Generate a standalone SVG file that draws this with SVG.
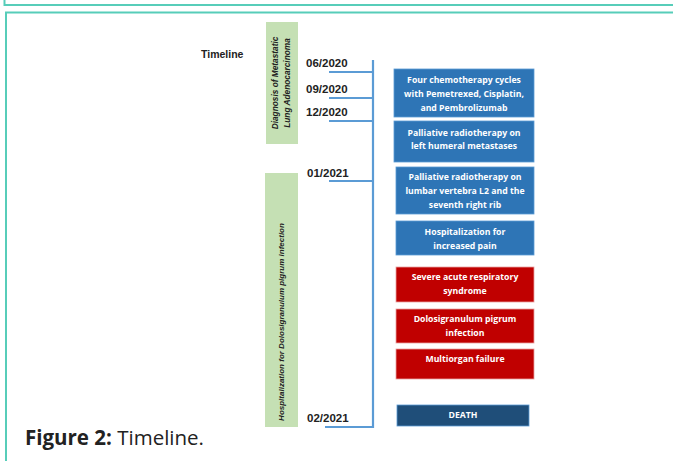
<svg xmlns="http://www.w3.org/2000/svg" width="673" height="461" viewBox="0 0 673 461">
<style>
.frame{fill:none;stroke:#57cdb9;stroke-width:2}
.green{fill:#c5e0b4}
.blue{fill:#2e75b6;stroke:#5b9bd5;stroke-width:0.8}
.red{fill:#c00000;stroke:#e8a0a0;stroke-width:0.8}
.navy{fill:#1f4e79;stroke:#5b9bd5;stroke-width:0.8}
.bt{font-family:"Open Sans","Liberation Sans",Arial,sans-serif;font-weight:bold;font-size:8.7px;fill:#ffffff;text-anchor:middle}
.date{font-family:"Liberation Sans",Arial,sans-serif;font-weight:bold;font-size:11.5px;fill:#222}
.vt{font-family:"Liberation Sans",Arial,sans-serif;font-weight:bold;font-style:italic;fill:#222;text-anchor:middle}
.ln{fill:none;stroke:#5b9bd5;stroke-width:2.2}
</style>
<rect width="673" height="461" fill="#ffffff"/>
<path class="frame" d="M4.5,0 V5 H673"/>
<path class="frame" d="M6,461 V12.5 H673"/>

<text x="201" y="58" font-family="Liberation Sans, Arial, sans-serif" font-weight="bold" font-size="10.5" fill="#222">Timeline</text>

<g id="phase-diagnosis">
<rect class="green" x="266" y="22" width="32" height="122"/>
<text class="vt" font-size="8.3" transform="translate(278,83) rotate(-90)">Diagnosis of Metastatic</text>
<text class="vt" font-size="8.3" transform="translate(290,83) rotate(-90)">Lung Adenocarcinoma</text>
</g>
<g id="phase-hospitalization">
<rect class="green" x="265" y="173" width="33" height="254"/>
<text class="vt" font-size="8" transform="translate(284,322) rotate(-90)">Hospitalization for Dolosigranulum pigrum infection</text>
</g>

<g id="connectors">
<path class="ln" d="M373,60 V427 H325"/>
<path class="ln" d="M329,72 H373"/>
<path class="ln" d="M329,98 H373"/>
<path class="ln" d="M329,121 H373"/>
<path class="ln" d="M329,181 H373"/>
</g>

<g id="dates">
<text class="date" x="306" y="67">06/2020</text>
<text class="date" x="306" y="93">09/2020</text>
<text class="date" x="306" y="116">12/2020</text>
<text class="date" x="307" y="177">01/2021</text>
<text class="date" x="307" y="422">02/2021</text>
</g>

<g id="chemo">
<rect class="blue" x="394" y="69" width="140" height="48"/>
<text class="bt" x="464" y="83">Four chemotherapy cycles</text>
<text class="bt" x="464" y="97">with Pemetrexed, Cisplatin,</text>
<text class="bt" x="464" y="111">and Pembrolizumab</text>
</g>
<g id="radio-humeral">
<rect class="blue" x="394" y="121" width="140" height="41"/>
<text class="bt" x="464" y="136">Palliative radiotherapy on</text>
<text class="bt" x="464" y="149">left humeral metastases</text>
</g>
<g id="radio-lumbar">
<rect class="blue" x="396" y="167" width="138" height="47"/>
<text class="bt" x="465" y="180">Palliative radiotherapy on</text>
<text class="bt" x="465" y="194">lumbar vertebra L2 and the</text>
<text class="bt" x="465" y="208">seventh right rib</text>
</g>
<g id="hospitalization">
<rect class="blue" x="396" y="221" width="138" height="34"/>
<text class="bt" x="465" y="235">Hospitalization for</text>
<text class="bt" x="465" y="249">increased pain</text>
</g>
<g id="sars">
<rect class="red" x="396" y="267" width="138" height="35"/>
<text class="bt" x="465" y="280">Severe acute respiratory</text>
<text class="bt" x="465" y="294">syndrome</text>
</g>
<g id="dolosigranulum">
<rect class="red" x="396" y="309" width="138" height="34"/>
<text class="bt" x="465" y="322">Dolosigranulum pigrum</text>
<text class="bt" x="465" y="336">infection</text>
</g>
<g id="multiorgan">
<rect class="red" x="396" y="349" width="138" height="30"/>
<text class="bt" x="465" y="362">Multiorgan failure</text>
</g>
<g id="death">
<rect class="navy" x="397" y="405" width="132" height="21"/>
<text class="bt" x="463" y="418">DEATH</text>
</g>

<text x="25" y="445" font-family="Open Sans, Liberation Sans, sans-serif" font-size="20.5" fill="#222"><tspan font-weight="bold">Figure 2:</tspan> Timeline.</text>
</svg>
